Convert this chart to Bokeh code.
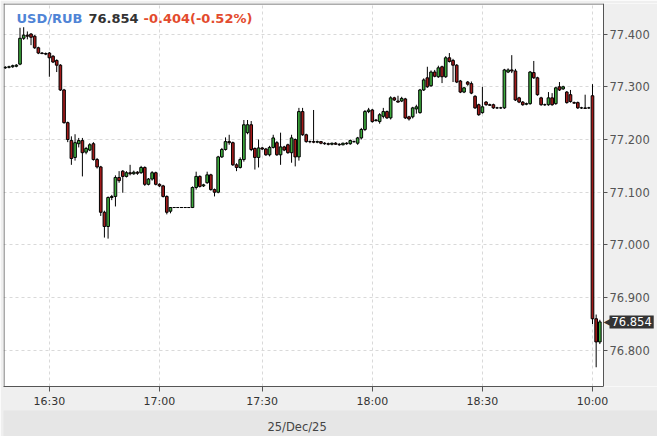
from bokeh.plotting import figure
from bokeh.models import (Range1d, FixedTicker, PrintfTickFormatter, LinearAxis, Label,
                          ColumnDataSource, BoxAnnotation)
from bokeh.embed import file_html
from bokeh.resources import INLINE

# ---------------- data (1-minute candles) ----------------
open_ = [77.336, 77.337, 77.338, 77.339, 77.343, 77.392, 77.398, 77.400, 77.396, 77.374,
         77.364, 77.363, 77.364, 77.358, 77.350, 77.341, 77.294, 77.232, 77.198, 77.166,
         77.192, 77.198, 77.176, 77.180, 77.192, 77.162, 77.148, 77.062, 77.035, 77.090,
         77.092, 77.128, 77.140, 77.130, 77.137, 77.135, 77.138, 77.137, 77.147, 77.115,
         77.125, 77.137, 77.115, 77.112, 77.092, 77.064, 77.071, 77.071, 77.071, 77.071,
         77.071, 77.071, 77.109, 77.130, 77.112, 77.118, 77.133, 77.105, 77.100, 77.167,
         77.181, 77.196, 77.194, 77.152, 77.147, 77.162, 77.213, 77.228, 77.183, 77.166,
         77.184, 77.182, 77.171, 77.185, 77.194, 77.171, 77.186, 77.190, 77.175, 77.200,
         77.167, 77.253, 77.209, 77.196, 77.196, 77.195, 77.196, 77.193, 77.192, 77.191,
         77.193, 77.191, 77.190, 77.193, 77.192, 77.196, 77.193, 77.203, 77.219, 77.253,
         77.256, 77.236, 77.234, 77.244, 77.253, 77.241, 77.279, 77.273, 77.273, 77.277,
         77.243, 77.243, 77.258, 77.251, 77.294, 77.317, 77.302, 77.328, 77.319, 77.338,
         77.319, 77.355, 77.350, 77.341, 77.311, 77.290, 77.309, 77.306, 77.282, 77.266,
         77.251, 77.271, 77.266, 77.266, 77.260, 77.260, 77.260, 77.328, 77.332, 77.330,
         77.279, 77.271, 77.267, 77.268, 77.327, 77.317, 77.279, 77.266, 77.266, 77.279,
         77.268, 77.300, 77.296, 77.290, 77.285, 77.270, 77.270, 77.260, 77.260, 77.260,
         77.283, 76.860, 76.816]
high = [77.339, 77.340, 77.342, 77.343, 77.412, 77.413, 77.405, 77.402, 77.398, 77.376,
        77.366, 77.365, 77.366, 77.360, 77.352, 77.343, 77.296, 77.234, 77.206, 77.210,
        77.203, 77.203, 77.186, 77.193, 77.195, 77.165, 77.150, 77.065, 77.092, 77.095,
        77.132, 77.140, 77.142, 77.140, 77.152, 77.141, 77.140, 77.150, 77.149, 77.127,
        77.140, 77.139, 77.117, 77.114, 77.094, 77.072, 77.071, 77.071, 77.071, 77.071,
        77.071, 77.111, 77.139, 77.132, 77.116, 77.139, 77.135, 77.107, 77.169, 77.184,
        77.204, 77.209, 77.196, 77.155, 77.166, 77.237, 77.237, 77.235, 77.185, 77.200,
        77.186, 77.184, 77.188, 77.209, 77.197, 77.213, 77.188, 77.192, 77.209, 77.202,
        77.260, 77.260, 77.211, 77.198, 77.256, 77.198, 77.197, 77.195, 77.194, 77.194,
        77.195, 77.193, 77.194, 77.195, 77.200, 77.198, 77.205, 77.222, 77.256, 77.260,
        77.258, 77.239, 77.250, 77.260, 77.255, 77.282, 77.281, 77.283, 77.281, 77.279,
        77.245, 77.262, 77.266, 77.296, 77.316, 77.338, 77.331, 77.332, 77.340, 77.340,
        77.358, 77.364, 77.353, 77.343, 77.313, 77.300, 77.311, 77.310, 77.284, 77.268,
        77.300, 77.273, 77.268, 77.268, 77.262, 77.262, 77.334, 77.335, 77.360, 77.334,
        77.281, 77.273, 77.270, 77.330, 77.349, 77.319, 77.281, 77.268, 77.290, 77.288,
        77.300, 77.309, 77.302, 77.292, 77.294, 77.272, 77.272, 77.262, 77.285, 77.262,
        77.305, 76.868, 76.858]
low = [77.334, 77.335, 77.336, 77.337, 77.341, 77.389, 77.390, 77.379, 77.372, 77.362,
       77.362, 77.360, 77.319, 77.345, 77.328, 77.292, 77.230, 77.195, 77.152, 77.160,
       77.185, 77.130, 77.172, 77.178, 77.160, 77.145, 77.055, 77.014, 77.012, 77.085,
       77.073, 77.118, 77.099, 77.128, 77.132, 77.133, 77.133, 77.135, 77.112, 77.113,
       77.122, 77.113, 77.110, 77.090, 77.058, 77.060, 77.071, 77.071, 77.071, 77.071,
       77.071, 77.070, 77.105, 77.109, 77.110, 77.116, 77.103, 77.092, 77.098, 77.165,
       77.179, 77.190, 77.150, 77.140, 77.145, 77.158, 77.210, 77.178, 77.143, 77.147,
       77.180, 77.169, 77.168, 77.183, 77.169, 77.152, 77.178, 77.173, 77.156, 77.149,
       77.160, 77.207, 77.194, 77.193, 77.193, 77.193, 77.191, 77.190, 77.189, 77.189,
       77.190, 77.188, 77.189, 77.190, 77.190, 77.194, 77.190, 77.200, 77.216, 77.250,
       77.232, 77.234, 77.230, 77.240, 77.239, 77.238, 77.273, 77.270, 77.271, 77.239,
       77.236, 77.240, 77.249, 77.249, 77.292, 77.298, 77.300, 77.318, 77.317, 77.307,
       77.317, 77.346, 77.309, 77.307, 77.288, 77.288, 77.302, 77.286, 77.258, 77.245,
       77.249, 77.264, 77.264, 77.258, 77.258, 77.258, 77.258, 77.326, 77.326, 77.273,
       77.269, 77.264, 77.265, 77.266, 77.315, 77.283, 77.264, 77.264, 77.264, 77.264,
       77.266, 77.292, 77.294, 77.268, 77.270, 77.268, 77.258, 77.258, 77.258, 77.258,
       76.850, 76.768, 76.812]
close = [77.337, 77.338, 77.340, 77.341, 77.392, 77.398, 77.396, 77.394, 77.374, 77.364,
         77.363, 77.362, 77.355, 77.347, 77.341, 77.294, 77.232, 77.200, 77.164, 77.194,
         77.198, 77.175, 77.183, 77.190, 77.162, 77.148, 77.062, 77.035, 77.090, 77.092,
         77.128, 77.122, 77.130, 77.137, 77.135, 77.138, 77.136, 77.147, 77.115, 77.125,
         77.137, 77.115, 77.112, 77.092, 77.062, 77.071, 77.071, 77.071, 77.071, 77.071,
         77.071, 77.109, 77.130, 77.111, 77.114, 77.133, 77.105, 77.100, 77.167, 77.181,
         77.196, 77.194, 77.152, 77.147, 77.162, 77.228, 77.228, 77.181, 77.166, 77.184,
         77.182, 77.171, 77.185, 77.203, 77.171, 77.186, 77.180, 77.175, 77.203, 77.167,
         77.253, 77.209, 77.196, 77.196, 77.195, 77.196, 77.193, 77.192, 77.191, 77.193,
         77.191, 77.190, 77.193, 77.192, 77.198, 77.196, 77.203, 77.219, 77.253, 77.256,
         77.234, 77.237, 77.247, 77.253, 77.241, 77.279, 77.275, 77.271, 77.278, 77.241,
         77.239, 77.260, 77.262, 77.294, 77.313, 77.300, 77.328, 77.320, 77.336, 77.319,
         77.355, 77.348, 77.341, 77.309, 77.290, 77.298, 77.305, 77.288, 77.260, 77.247,
         77.262, 77.266, 77.265, 77.260, 77.260, 77.260, 77.332, 77.332, 77.330, 77.275,
         77.271, 77.266, 77.268, 77.328, 77.317, 77.285, 77.266, 77.266, 77.279, 77.266,
         77.298, 77.294, 77.300, 77.270, 77.272, 77.269, 77.260, 77.260, 77.259, 77.260,
         76.860, 76.816, 76.854]

tick_index = [12, 42, 70, 100, 130, 160]
tick_labels = ["16:30", "17:00", "17:30", "18:00", "18:30", "10:00"]
y_ticks = [76.8, 76.9, 77.0, 77.1, 77.2, 77.3, 77.4]

symbol = "USD/RUB"
last_price = 76.854
last_text = "76.854"
change_text = "-0.404(-0.52%)"
date_label = "25/Dec/25"
day_last_index = 159          # last candle of the 25/Dec session

# ---------------- derived ----------------
n = len(close)
idx = list(range(n))
colors = ["#3dab3d" if c >= o else "#a31a1a" for o, c in zip(open_, close)]
tops = [max(o, c) for o, c in zip(open_, close)]
bottoms = [min(o, c) for o, c in zip(open_, close)]
src = ColumnDataSource(dict(x=idx, high=high, low=low, top=tops, bottom=bottoms, color=colors))

FONT = "DejaVu Sans"
W, H = 657, 436
FL, FT, FB = 3, 3, 48                 # frame borders (px)
AXIS_PX = 603                         # screen x of the price axis
X0 = -0.5
AX = n + 0.0                          # price axis sits just after the last candle
PPU = (AXIS_PX - FL) / (AX - X0)      # px per candle
X1 = X0 + (W - FL) / PPU
Y0, Y1 = 76.7315, 77.458
PPY = (H - FT - FB) / (Y1 - Y0)

p = figure(width=W, height=H, x_range=Range1d(X0, X1), y_range=Range1d(Y0, Y1),
           y_axis_location="right", output_backend="svg", toolbar_location=None,
           min_border_left=FL, min_border_top=FT, min_border_right=0, min_border_bottom=FB,
           background_fill_color="white", border_fill_color="#efefef",
           outline_line_color=None)

# grey panel behind the price labels (inside the frame, right of the axis)
p.add_layout(BoxAnnotation(left=AX, fill_color="#efefef", fill_alpha=1.0,
                           line_color=None, level="glyph"))

# frame border (left and top)
p.segment(x0=[X0 + 0.5 / PPU], y0=[Y0], x1=[X0 + 0.5 / PPU], y1=[Y1],
          line_color="#555555", line_width=1)
p.segment(x0=[X0], y0=[Y1 - 0.5 / PPY], x1=[AX], y1=[Y1 - 0.5 / PPY],
          line_color="#555555", line_width=1)

# candles
p.segment(x0="x", y0="low", x1="x", y1="high", source=src, line_color="black", line_width=1)
p.vbar(x="x", width=0.72, top="top", bottom="bottom", source=src,
       fill_color="color", line_color="black", line_width=1)

# x axis
xa = p.xaxis[0]
xa.ticker = FixedTicker(ticks=tick_index)
xa.major_label_overrides = {t: l for t, l in zip(tick_index, tick_labels)}
xa.bounds = (X0, AX)
xa.axis_line_color = "#555555"
xa.major_tick_line_color = "#555555"
xa.major_tick_out = 5
xa.major_tick_in = 0
xa.minor_tick_line_color = None
xa.major_label_text_font = FONT
xa.major_label_text_font_size = "11px"
xa.major_label_text_color = "#333333"
xa.major_label_standoff = 3

# y axis (price scale on the right, fixed at the end of the candles)
ya = p.yaxis[0]
ya.fixed_location = AX
ya.ticker = FixedTicker(ticks=y_ticks)
ya.formatter = PrintfTickFormatter(format="%.3f")
ya.axis_line_color = "#555555"
ya.major_tick_line_color = "#555555"
ya.major_tick_out = 4
ya.major_tick_in = 0
ya.minor_tick_line_color = None
ya.major_label_text_font = FONT
ya.major_label_text_font_size = "11.5px"
ya.major_label_text_color = "#555555"
ya.major_label_standoff = 2

for g in (p.xgrid[0], p.ygrid[0]):
    g.grid_line_color = "#d9d9d9"
    g.grid_line_dash = "3 3"
p.xgrid[0].ticker = xa.ticker
p.ygrid[0].ticker = ya.ticker

# date strip
date_pos = (0 + day_last_index) / 2
da = LinearAxis(ticker=FixedTicker(ticks=[date_pos]))
da.major_label_overrides = {date_pos: date_label}
da.axis_line_color = None
da.major_tick_line_color = None
da.minor_tick_line_color = None
da.major_tick_out = 0
da.major_tick_in = 0
da.major_label_standoff = 9
da.major_label_text_font = FONT
da.major_label_text_font_size = "11.5px"
da.major_label_text_color = "#444444"
if "background_fill_color" in da.properties():
    da.background_fill_color = "#e6e6e6"
p.add_layout(da, "below")

# header text
for txt, off, col in zip([symbol, last_text, change_text], [13, 85, 140],
                         ["#4f84d6", "#333333", "#e34b2e"]):
    p.add_layout(Label(x=X0, y=Y1, x_offset=off, y_offset=-15, text=txt, text_color=col,
                       text_font=FONT, text_font_size="13px", text_font_style="bold",
                       text_baseline="middle", text_align="left"))

# last price marker on the price scale
arrow = Label(x=AX, y=last_price, x_offset=0, text="\u25c0", text_color="#333333",
              text_font=FONT, text_font_size="10px", text_baseline="middle", text_align="left")
p.add_layout(arrow)
box = Label(x=AX, y=last_price, x_offset=6, text=last_text, text_color="white",
            background_fill_color="#333333", text_font=FONT, text_font_size="11.5px",
            text_baseline="middle", text_align="left")
if "padding" in box.properties():
    box.padding = 2
p.add_layout(box)

open("out.html", "w", encoding="utf-8").write(file_html(p, INLINE))
